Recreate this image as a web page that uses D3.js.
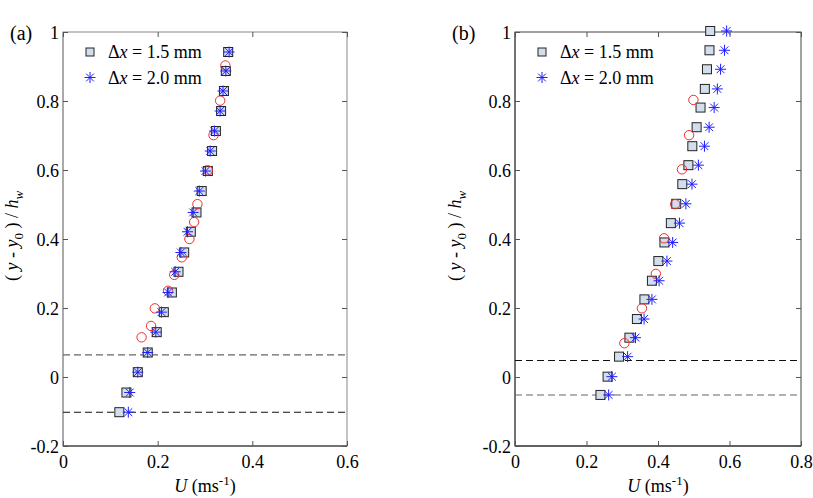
<!DOCTYPE html>
<html><head><meta charset="utf-8">
<script src="https://cdn.jsdelivr.net/npm/d3@7"></script>
<style>body{margin:0;background:#fff} svg text{font-family:'Liberation Serif','Times New Roman',Times,'DejaVu Serif',serif !important;fill:#000}</style>
</head><body><svg id="c" width="813" height="498" font-family="Liberation Serif, Times New Roman, serif"></svg>
<script>
// ---------- data ----------
const yTicks = [-0.2, 0, 0.2, 0.4, 0.6, 0.8, 1];
const xTicksA = [0, 0.2, 0.4, 0.6];
const xTicksB = [0, 0.2, 0.4, 0.6, 0.8];
const legendLabels = ["1.5 mm", "2.0 mm"];
const panelLabels = ["(a)", "(b)"];

// Panel (a)
const aSqY = [0.942,0.887,0.829,0.771,0.713,0.655,0.597,0.539,0.477,0.421,0.361,0.305,0.245,0.188,0.130,0.071,0.014,-0.045,-0.102];
const aSqU = [0.349,0.344,0.340,0.334,0.323,0.315,0.306,0.293,0.282,0.270,0.256,0.244,0.230,0.213,0.198,0.179,0.158,0.134,0.119];
const aStU  = [0.351,0.344,0.338,0.332,0.320,0.311,0.301,0.288,0.275,0.263,0.249,0.237,0.222,0.208,0.196,0.179,0.158,0.141,0.138];
const aCiY = [0.903,0.801,0.701,0.599,0.501,0.449,0.400,0.347,0.296,0.250,0.199,0.148,0.115];
const aCiU = [0.343,0.332,0.318,0.306,0.284,0.277,0.267,0.251,0.235,0.222,0.194,0.186,0.166];
const aLines = [0.064, -0.102];

// Panel (b)
const bSqY = [1.003,0.947,0.892,0.835,0.781,0.724,0.669,0.614,0.559,0.502,0.446,0.390,0.336,0.279,0.225,0.168,0.114,0.059,0.001,-0.052];
const bSqU = [0.546,0.544,0.537,0.531,0.519,0.508,0.496,0.485,0.468,0.451,0.436,0.418,0.401,0.383,0.362,0.341,0.320,0.291,0.259,0.239];
const bStU  = [0.592,0.586,0.575,0.566,0.557,0.543,0.530,0.513,0.495,0.478,0.460,0.441,0.425,0.403,0.383,0.361,0.337,0.315,0.271,0.262];
const bCiY = [0.803,0.701,0.602,0.501,0.402,0.299,0.199,0.098];
const bCiU = [0.499,0.487,0.467,0.448,0.417,0.394,0.355,0.306];
const bLines = [0.048, -0.052];

// ---------- drawing ----------
const svg = d3.select("#c");
const FF = "'Liberation Serif','Times New Roman',Times,serif";
const FS = 18;
const sqFill = "#d3deed", starCol = "#1f1fff", circCol = "#ee3030";

function starPath(x, y) {
  const r = 5.5, d = 3.9;
  return `M${x-r},${y}L${x+r},${y}M${x},${y-r}L${x},${y+r}M${x-d},${y-d}L${x+d},${y+d}M${x-d},${y+d}L${x+d},${y-d}`;
}

function panel(o) {
  const x = d3.scaleLinear().domain(o.xDomain).range([o.left, o.right]);
  const y = d3.scaleLinear().domain([-0.2, 1]).range([446, 32]);
  const g = svg.append("g").attr("font-family", FF);

  // frame
  g.append("rect").attr("x", o.left).attr("y", 32).attr("width", o.right - o.left).attr("height", 414)
    .attr("fill", "none").attr("stroke", o.frameCol).attr("stroke-width", 1);
  g.append("line").attr("x1", o.left).attr("x2", o.right).attr("y1", 446).attr("y2", 446)
    .attr("stroke", "#222").attr("stroke-width", 1.2);
  g.append("line").attr("x1", o.left).attr("x2", o.left).attr("y1", 32).attr("y2", 446)
    .attr("stroke", o.leftCol).attr("stroke-width", 1.2);

  // axes with inward ticks
  const axB = d3.axisBottom(x).tickValues(o.xTicks).tickSize(-5).tickFormat(d3.format("~g"));
  const axT = d3.axisTop(x).tickValues(o.xTicks).tickSize(-5).tickFormat("");
  const axL = d3.axisLeft(y).tickValues(yTicks).tickSize(-5).tickFormat(d3.format("~g"));
  const axR = d3.axisRight(y).tickValues(yTicks).tickSize(-5).tickFormat("");
  [[axB, `translate(0,446)`], [axT, `translate(0,32)`], [axL, `translate(${o.left},0)`], [axR, `translate(${o.right},0)`]]
    .forEach(([ax, tr], i) => {
      const a = g.append("g").attr("transform", tr).call(ax).attr("font-family", FF).attr("font-size", FS);
      a.select(".domain").remove();
      a.selectAll(".tick line").attr("stroke", "#555");
      a.selectAll("text").attr("font-family", FF).style("font-size", FS + "px").attr("fill", "#000");
      if (i === 0) a.selectAll("text").attr("y", 9).attr("dy", "0.71em");
      if (i === 2) a.selectAll("text").attr("x", -4).attr("dy", "0.36em").text(d => d === -0.2 ? "-0.2" : d3.format("~g")(d));
    });
  // dashed lines
  o.lines.forEach((v, i) => {
    g.append("line").attr("x1", o.left).attr("x2", o.right).attr("y1", y(v)).attr("y2", y(v))
      .attr("stroke", o.lineCols[i]).attr("stroke-width", 1.1).attr("stroke-dasharray", "7,4");
  });

  // squares
  g.selectAll(".sq").data(o.sqY.map((v, i) => [o.sqU[i], v])).join("rect")
    .attr("x", d => x(d[0]) - 4.5).attr("y", d => y(d[1]) - 4.5).attr("width", 9).attr("height", 9)
    .attr("fill", sqFill).attr("stroke", "#222").attr("stroke-width", 1);
  // circles
  g.selectAll(".ci").data(o.ciY.map((v, i) => [o.ciU[i], v])).join("circle")
    .attr("cx", d => x(d[0])).attr("cy", d => y(d[1])).attr("r", 4.7)
    .attr("fill", "none").attr("stroke", circCol).attr("stroke-width", 1);
  // stars
  g.selectAll(".st").data(o.sqY.map((v, i) => [o.stU[i], v])).join("path")
    .attr("d", d => starPath(x(d[0]), y(d[1])))
    .attr("stroke", starCol).attr("stroke-width", 1).attr("fill", "none");

  // legend
  const lx = o.left + 27, ly = [52, 77.5];
  g.append("rect").attr("x", lx - 4).attr("y", ly[0] - 4).attr("width", 8).attr("height", 8)
    .attr("fill", sqFill).attr("stroke", "#222");
  g.append("path").attr("d", starPath(lx, ly[1])).attr("stroke", starCol).attr("stroke-width", 1);
  legendLabels.forEach((lab, i) => {
    const t = g.append("text").attr("x", lx + 18).attr("y", ly[i] + 6).attr("font-family", FF).style("font-size", FS + "px");
    t.append("tspan").text("\u0394");
    t.append("tspan").attr("font-style", "italic").text("x");
    t.append("tspan").text(" = " + lab);
  });

  // panel label
  svg.append("text").attr("x", o.labX).attr("y", 40).attr("font-family", FF).style("font-size", "20px").text(o.label);

  // y label
  const yl = svg.append("text").attr("transform", `translate(${o.yLabX},236) rotate(-90)`)
    .attr("text-anchor", "middle").attr("font-family", FF).style("font-size", FS + "px");
  yl.append("tspan").text("( ");
  yl.append("tspan").attr("font-style", "italic").text("y");
  yl.append("tspan").text(" - ");
  yl.append("tspan").attr("font-style", "italic").text("y");
  yl.append("tspan").attr("dy", 5).style("font-size", "13px").text("0");
  yl.append("tspan").attr("dy", -5).text(" ) / ");
  yl.append("tspan").attr("font-style", "italic").text("h");
  yl.append("tspan").attr("dy", 5).style("font-size", "13px").attr("font-style", "italic").text("w");

  // x label
  const xl = svg.append("text").attr("x", (o.left + o.right) / 2).attr("y", 492)
    .attr("text-anchor", "middle").attr("font-family", FF).style("font-size", FS + "px");
  xl.append("tspan").attr("font-style", "italic").text("U");
  xl.append("tspan").text(" (ms");
  xl.append("tspan").attr("dy", -7).style("font-size", "13px").text("-1");
  xl.append("tspan").attr("dy", 7).text(")");
}

panel({left: 63, right: 347, xDomain: [0, 0.6], xTicks: xTicksA, frameCol: "#888", leftCol: "#999",
  lines: aLines, lineCols: ["#666", "#111"], sqY: aSqY, sqU: aSqU, stU: aStU, ciY: aCiY, ciU: aCiU,
  label: panelLabels[0], labX: 10, yLabX: 18});
panel({left: 515, right: 801, xDomain: [0, 0.8], xTicks: xTicksB, frameCol: "#444", leftCol: "#555",
  lines: bLines, lineCols: ["#111", "#666"], sqY: bSqY, sqU: bSqU, stU: bStU, ciY: bCiY, ciU: bCiU,
  label: panelLabels[1], labX: 452, yLabX: 461});
</script></body></html>
